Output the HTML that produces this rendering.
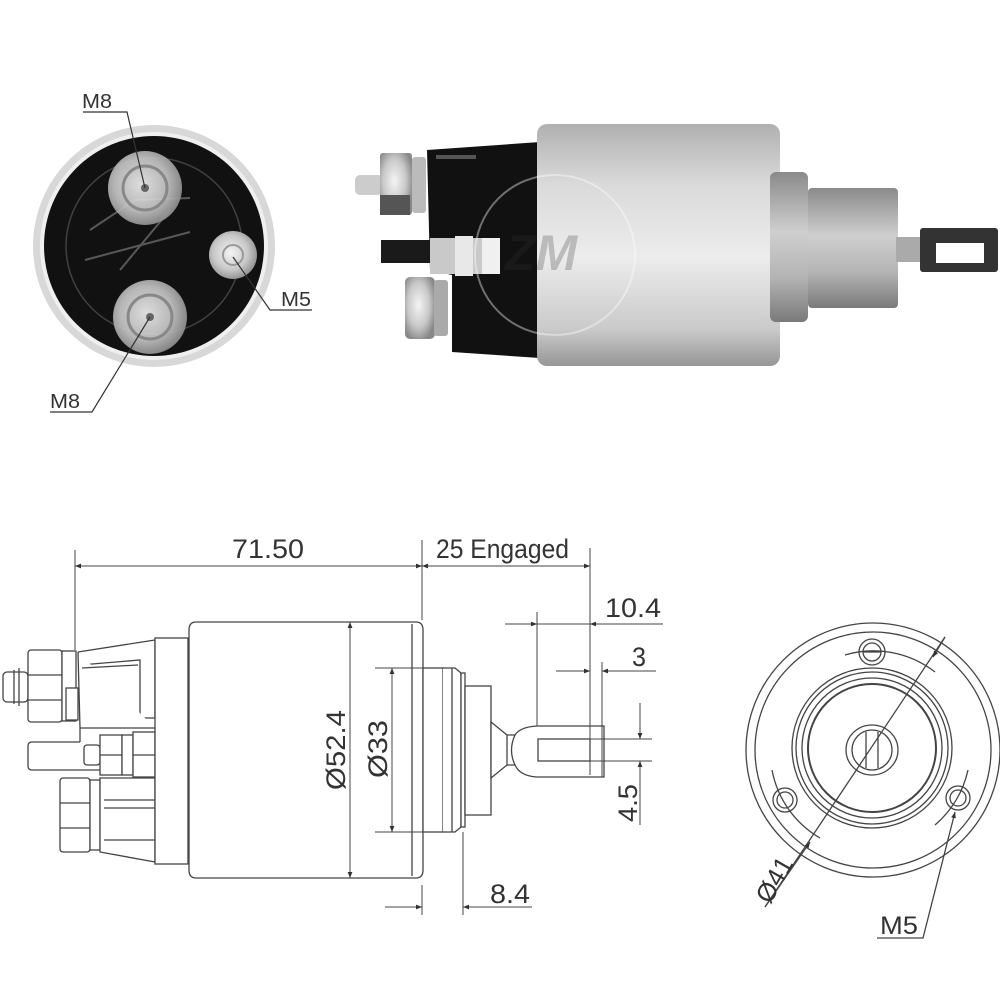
<!DOCTYPE html>
<html><head><meta charset="utf-8"><style>
html,body{margin:0;padding:0;background:#fff;}
svg{display:block}
text{font-family:"Liberation Sans",sans-serif;fill:#333;}
</style></head><body>
<svg width="1000" height="1000" viewBox="0 0 1000 1000" xmlns="http://www.w3.org/2000/svg">
<defs>
<linearGradient id="sil" x1="0" y1="0" x2="0" y2="1">
<stop offset="0" stop-color="#b0b0b0"/><stop offset="0.25" stop-color="#dadada"/><stop offset="0.55" stop-color="#ececec"/><stop offset="0.85" stop-color="#cacaca"/><stop offset="1" stop-color="#969696"/>
</linearGradient>
<linearGradient id="sil2" x1="0" y1="0" x2="0" y2="1">
<stop offset="0" stop-color="#8a8a8a"/><stop offset="0.4" stop-color="#cfcfcf"/><stop offset="0.7" stop-color="#b4b4b4"/><stop offset="1" stop-color="#7a7a7a"/>
</linearGradient>
<radialGradient id="nut" cx="0.45" cy="0.45" r="0.6">
<stop offset="0" stop-color="#f4f4f4"/><stop offset="0.6" stop-color="#c8c8c8"/><stop offset="1" stop-color="#888"/>
</radialGradient>
<marker id="ar" viewBox="0 0 10 10" refX="10" refY="5" markerWidth="13" markerHeight="6" orient="auto-start-reverse" markerUnits="userSpaceOnUse"><path d="M0,1 L10,5 L0,9z" fill="#333"/></marker>
</defs>

<!-- ========== TOP LEFT END VIEW ========== -->
<circle cx="154" cy="246" r="121" fill="#d8d8d8"/>
<circle cx="154" cy="246" r="114" fill="#efefef"/>
<circle cx="154" cy="246" r="110" fill="#111"/>
<circle cx="154" cy="246" r="88" fill="none" stroke="#555" stroke-width="1.5" opacity="0.7"/>
<g stroke="#777" stroke-width="2" fill="none" opacity="0.7">
<path d="M90 230 L135 200 L190 198"/><path d="M85 260 L190 232"/><path d="M120 270 L170 210"/>
</g>
<circle cx="145" cy="188" r="37" fill="url(#nut)" opacity="0.9"/>
<circle cx="145" cy="188" r="22" fill="none" stroke="#888" stroke-width="3"/>
<circle cx="145" cy="188" r="4" fill="#666"/>
<circle cx="150" cy="317" r="37" fill="url(#nut)" opacity="0.9"/>
<circle cx="150" cy="317" r="22" fill="none" stroke="#888" stroke-width="3"/>
<circle cx="150" cy="317" r="4" fill="#666"/>
<circle cx="233" cy="255" r="24" fill="url(#nut)"/>
<circle cx="233" cy="255" r="10" fill="none" stroke="#999" stroke-width="2"/>
<g stroke="#333" stroke-width="1.2" fill="none">
<path d="M83 112 L127 112 L145 188"/>
<path d="M312 310 L270 310 L233 257"/>
<path d="M50 412 L92 412 L150 317"/>
</g>
<text x="82" y="108" font-size="20" textLength="30" lengthAdjust="spacingAndGlyphs">M8</text>
<text x="281" y="306" font-size="20" textLength="30" lengthAdjust="spacingAndGlyphs">M5</text>
<text x="50" y="408" font-size="20" textLength="30" lengthAdjust="spacingAndGlyphs">M8</text>

<!-- ========== TOP RIGHT PHOTO ========== -->
<path d="M427 150 L540 142 L540 358 L452 352 L452 275 L430 270 Z" fill="#111"/>
<rect x="436" y="155" width="40" height="4" fill="#555"/>
<rect x="355" y="175" width="28" height="20" rx="5" fill="#ccc"/>
<rect x="380" y="153" width="32" height="62" rx="3" fill="url(#nut)"/>
<rect x="412" y="157" width="14" height="56" rx="3" fill="#bbb"/>
<rect x="380" y="195" width="30" height="20" fill="#555"/>
<rect x="381" y="240" width="62" height="23" fill="#1a1a1a"/>
<rect x="430" y="238" width="70" height="36" fill="#c9c9c9"/>
<rect x="455" y="236" width="18" height="40" fill="#e8e8e8"/>
<rect x="482" y="238" width="18" height="36" fill="#f0f0f0"/>
<rect x="405" y="277" width="30" height="62" rx="5" fill="url(#nut)"/>
<rect x="434" y="280" width="14" height="56" rx="3" fill="#aaa"/>
<rect x="537" y="124" width="243" height="242" rx="10" fill="url(#sil)"/>
<rect x="770" y="172" width="38" height="150" rx="6" fill="url(#sil2)"/>
<rect x="808" y="188" width="90" height="120" rx="4" fill="url(#sil2)"/>
<rect x="896" y="237" width="28" height="25" fill="#aaa"/>
<rect x="920" y="228" width="78" height="44" rx="3" fill="#333"/>
<rect x="936" y="243" width="48" height="20" fill="#fff"/>
<circle cx="555" cy="255" r="80" fill="none" stroke="#fff" stroke-width="2" opacity="0.4"/>
<text x="505" y="270" font-size="50" font-weight="bold" font-style="italic" fill="#fff" opacity="0.25">ZM</text>

<!-- ========== BOTTOM LEFT DRAWING ========== -->
<g stroke="#444" stroke-width="1.3" fill="#fff">
<rect x="3" y="672" width="25" height="30" rx="4"/>
<line x1="14" y1="670" x2="14" y2="704"/><line x1="19" y1="668" x2="19" y2="706"/>
<rect x="28" y="650" width="34" height="72" rx="3"/>
<line x1="28" y1="675" x2="62" y2="675"/><line x1="28" y1="700" x2="62" y2="700"/>
<rect x="62" y="651" width="14" height="70"/>
<rect x="66" y="688" width="12" height="32"/>
<path d="M78 652 L155 640 L155 718 L140 718 L140 660 L80 665" />
<path d="M78 652 L80 728 L155 728"/>
<line x1="82" y1="668" x2="138" y2="665"/>
<path d="M80 742 L32 742 Q28 742 28 746 L28 766 Q28 770 32 770 L100 770"/>
<line x1="80" y1="728" x2="80" y2="742"/>
<rect x="84" y="745" width="16" height="20" rx="3"/>
<rect x="100" y="735" width="22" height="40"/>
<line x1="100" y1="755" x2="122" y2="755"/>
<rect x="122" y="735" width="11" height="40"/>
<rect x="133" y="732" width="22" height="45"/>
<line x1="133" y1="755" x2="155" y2="755"/>
<rect x="60" y="778" width="30" height="74" rx="3"/>
<line x1="60" y1="803" x2="90" y2="803"/><line x1="60" y1="828" x2="90" y2="828"/>
<rect x="90" y="780" width="10" height="70"/>
<path d="M100 778 L155 778 L155 862 L100 852 Z"/>
<line x1="104" y1="800" x2="155" y2="800"/><line x1="104" y1="808" x2="155" y2="808"/>
<line x1="104" y1="840" x2="155" y2="840"/>
<rect x="155" y="638" width="33" height="226"/>
<path d="M196 622 L416 622 Q423 622 423 630 L423 870 Q423 878 416 878 L196 878 Q189 878 189 870 L189 630 Q189 622 196 622 Z"/>
<line x1="412" y1="624" x2="412" y2="876"/>
<rect x="423" y="668" width="20" height="164"/>
<path d="M443 668 L455 668 L461 673 L461 827 L455 832 L443 832"/>
<line x1="452" y1="668" x2="452" y2="832"/>
<rect x="461" y="673" width="4" height="154"/>
<rect x="465" y="686" width="26" height="129"/>
<path d="M491 722 L507 735 L515 735 Q520 727 537 726 L604 726 L604 777 L537 777 Q520 776 515 765 L507 765 L491 778 Z"/>
<line x1="507" y1="735" x2="507" y2="765"/>
<path d="M515 735 Q508 750 515 765" fill="none"/>
<rect x="538" y="739" width="52" height="22"/>
</g>

<g stroke="#444" stroke-width="1" fill="none">
<line x1="75" y1="550" x2="75" y2="650"/>
<line x1="422" y1="540" x2="422" y2="620"/>
<line x1="590" y1="548" x2="590" y2="775"/>
<line x1="75" y1="566" x2="422" y2="566" marker-start="url(#ar)" marker-end="url(#ar)"/>
<line x1="422" y1="566" x2="590" y2="566" marker-start="url(#ar)" marker-end="url(#ar)"/>
<line x1="537" y1="612" x2="537" y2="726"/>
<line x1="505" y1="624" x2="537" y2="624" marker-end="url(#ar)"/>
<line x1="537" y1="624" x2="590" y2="624"/>
<line x1="590" y1="624" x2="663" y2="624" marker-start="url(#ar)"/>
<line x1="602" y1="662" x2="602" y2="777"/>
<line x1="556" y1="671" x2="590" y2="671" marker-end="url(#ar)"/>
<line x1="602" y1="671" x2="656" y2="671" marker-start="url(#ar)"/>
<line x1="590" y1="739" x2="652" y2="739"/>
<line x1="590" y1="761" x2="652" y2="761"/>
<line x1="640" y1="703" x2="640" y2="739" marker-end="url(#ar)"/>
<line x1="640" y1="761" x2="640" y2="825" marker-start="url(#ar)"/>
<line x1="350" y1="622" x2="350" y2="878" marker-start="url(#ar)" marker-end="url(#ar)"/>
<line x1="375" y1="668" x2="423" y2="668"/>
<line x1="375" y1="832" x2="423" y2="832"/>
<line x1="392" y1="668" x2="392" y2="832" marker-start="url(#ar)" marker-end="url(#ar)"/>
<line x1="422" y1="885" x2="422" y2="915"/>
<line x1="463" y1="832" x2="463" y2="915"/>
<line x1="385" y1="907" x2="422" y2="907" marker-end="url(#ar)"/>
<line x1="463" y1="907" x2="532" y2="907" marker-start="url(#ar)"/>
</g>
<g font-size="27">
<text x="232" y="558" textLength="72" lengthAdjust="spacingAndGlyphs">71.50</text>
<text x="436" y="558" textLength="133" lengthAdjust="spacingAndGlyphs">25 Engaged</text>
<text x="605" y="617" textLength="56" lengthAdjust="spacingAndGlyphs">10.4</text>
<text x="632" y="666" textLength="14" lengthAdjust="spacingAndGlyphs">3</text>
<text x="490" y="903" textLength="40" lengthAdjust="spacingAndGlyphs">8.4</text>
<text transform="translate(345,790) rotate(-90)" textLength="80" lengthAdjust="spacingAndGlyphs">Ø52.4</text>
<text transform="translate(387,778) rotate(-90)" textLength="58" lengthAdjust="spacingAndGlyphs">Ø33</text>
<text transform="translate(637,822) rotate(-90)" textLength="38" lengthAdjust="spacingAndGlyphs">4.5</text>
</g>

<!-- ========== BOTTOM RIGHT END VIEW ========== -->
<g stroke="#444" stroke-width="1.3" fill="none">
<circle cx="873" cy="750" r="127"/>
<circle cx="873" cy="750" r="118"/>
<circle cx="872" cy="748" r="80"/>
<circle cx="872" cy="748" r="76"/>
<circle cx="872" cy="748" r="70"/>
<circle cx="872" cy="748" r="64" stroke-width="2"/>
<ellipse cx="872" cy="750" rx="26" ry="25"/>
<ellipse cx="872" cy="750" rx="20" ry="20"/>
<line x1="866" y1="732" x2="866" y2="768"/><line x1="878" y1="732" x2="878" y2="768"/>
<circle cx="872" cy="652" r="13"/><circle cx="872" cy="652" r="9"/>
<line x1="863" y1="652" x2="881" y2="652"/>
<circle cx="785" cy="800" r="12"/><circle cx="785" cy="800" r="8"/>
<circle cx="958" cy="798" r="12"/><circle cx="958" cy="798" r="8"/>
<path d="M845 655 A100 100 0 0 1 935 672"/>
<path d="M772 770 A100 100 0 0 0 820 838"/>
<path d="M968 770 A100 100 0 0 1 935 825"/>
<line x1="945" y1="637" x2="765" y2="907"/>
<line x1="945" y1="637" x2="933" y2="657" marker-end="url(#ar)"/>
<line x1="765" y1="907" x2="810" y2="842" marker-end="url(#ar)"/>
<path d="M877 938 L923 938 L955 812" marker-end="url(#ar)"/>
</g>
<text transform="translate(770,905) rotate(-60)" font-size="26" textLength="48" lengthAdjust="spacingAndGlyphs">Ø41</text>
<text x="880" y="934" font-size="25" textLength="38" lengthAdjust="spacingAndGlyphs">M5</text>
</svg>
</body></html>
